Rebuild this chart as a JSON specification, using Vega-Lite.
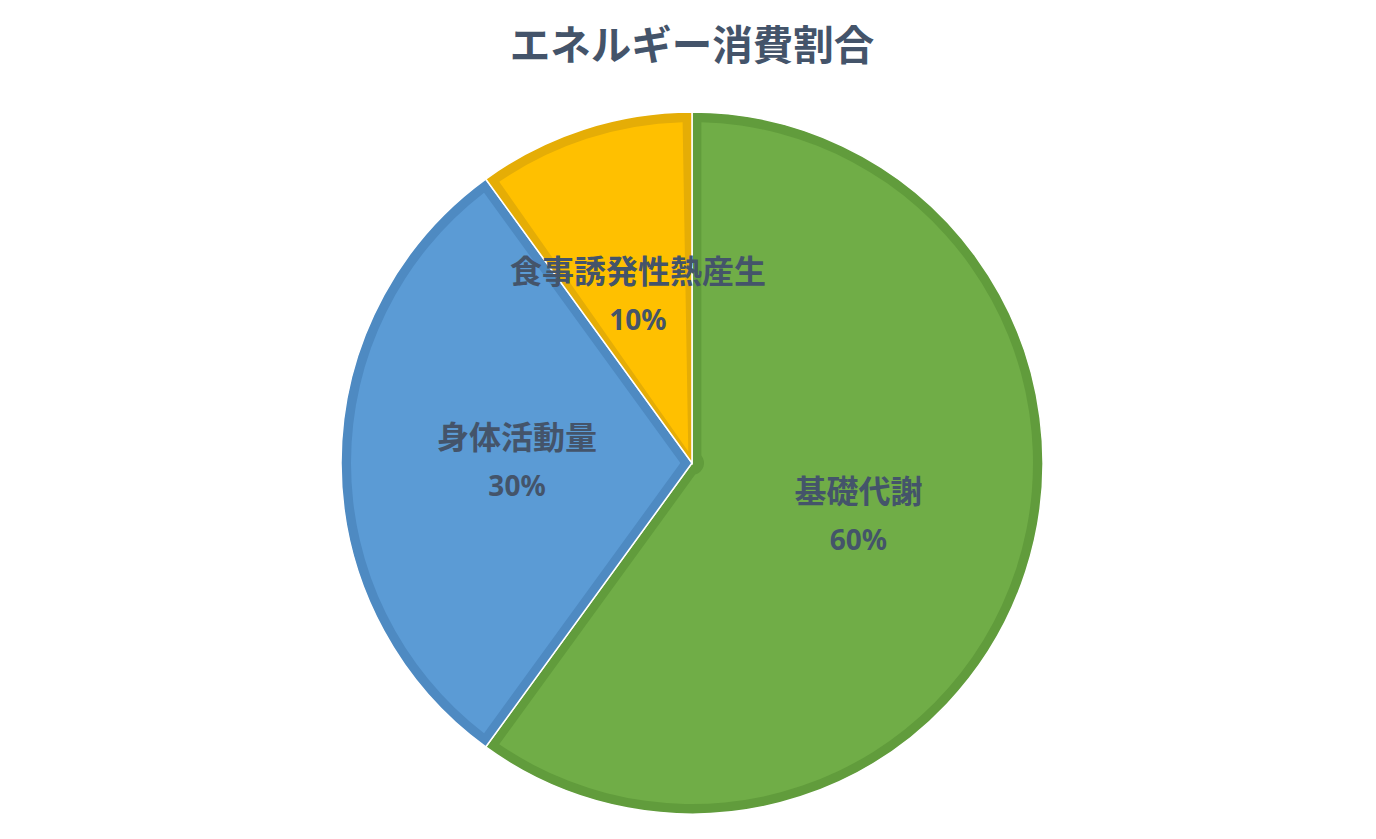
{
  "$schema": "https://vega.github.io/schema/vega-lite/v6.json",
  "autosize": "none",
  "width": 1376,
  "height": 726,
  "padding": {"top": 100, "left": 4, "right": 0, "bottom": 13},
  "background": "white",
  "title": {
    "text": "エネルギー消費割合",
    "font": "Noto Sans CJK JP",
    "fontSize": 40.5,
    "fontWeight": "bold",
    "color": "#44546A",
    "anchor": "middle",
    "offset": 32
  },
  "data": {
    "values": [
      {"項目": "基礎代謝", "割合": 0.6, "順": 1},
      {"項目": "身体活動量", "割合": 0.3, "順": 2},
      {"項目": "食事誘発性熱産生", "割合": 0.1, "順": 3}
    ]
  },
  "encoding": {
    "theta": {"field": "割合", "type": "quantitative", "stack": true},
    "order": {"field": "順", "type": "ordinal"}
  },
  "layer": [
    {
      "mark": {"type": "arc", "outerRadius": 351, "stroke": "white", "strokeWidth": 1.5},
      "encoding": {
        "color": {
          "field": "項目",
          "type": "nominal",
          "scale": {
            "domain": ["基礎代謝", "身体活動量", "食事誘発性熱産生"],
            "range": ["#619C3C", "#4E8AC2", "#E5AD06"]
          },
          "legend": null
        }
      }
    },
    {
      "mark": {"type": "arc", "outerRadius": 341, "innerRadius": 12, "padAngle": 0.055},
      "encoding": {
        "color": {
          "field": "項目",
          "type": "nominal",
          "scale": {
            "domain": ["基礎代謝", "身体活動量", "食事誘発性熱産生"],
            "range": ["#70AD47", "#5B9BD5", "#FFC000"]
          },
          "legend": null
        }
      }
    },
    {
      "mark": {
        "type": "text",
        "radius": 175,
        "dy": -24,
        "font": "Noto Sans CJK JP",
        "fontSize": 32,
        "fontWeight": "bold",
        "color": "#44546A",
        "baseline": "middle",
        "align": "center"
      },
      "encoding": {"text": {"field": "項目"}}
    },
    {
      "mark": {
        "type": "text",
        "radius": 175,
        "dy": 25,
        "font": "Noto Sans",
        "fontSize": 28,
        "fontWeight": "bold",
        "color": "#44546A",
        "baseline": "middle",
        "align": "center"
      },
      "encoding": {"text": {"field": "割合", "format": ".0%"}}
    }
  ],
  "resolve": {"scale": {"color": "independent"}},
  "config": {"view": {"stroke": null}}
}
